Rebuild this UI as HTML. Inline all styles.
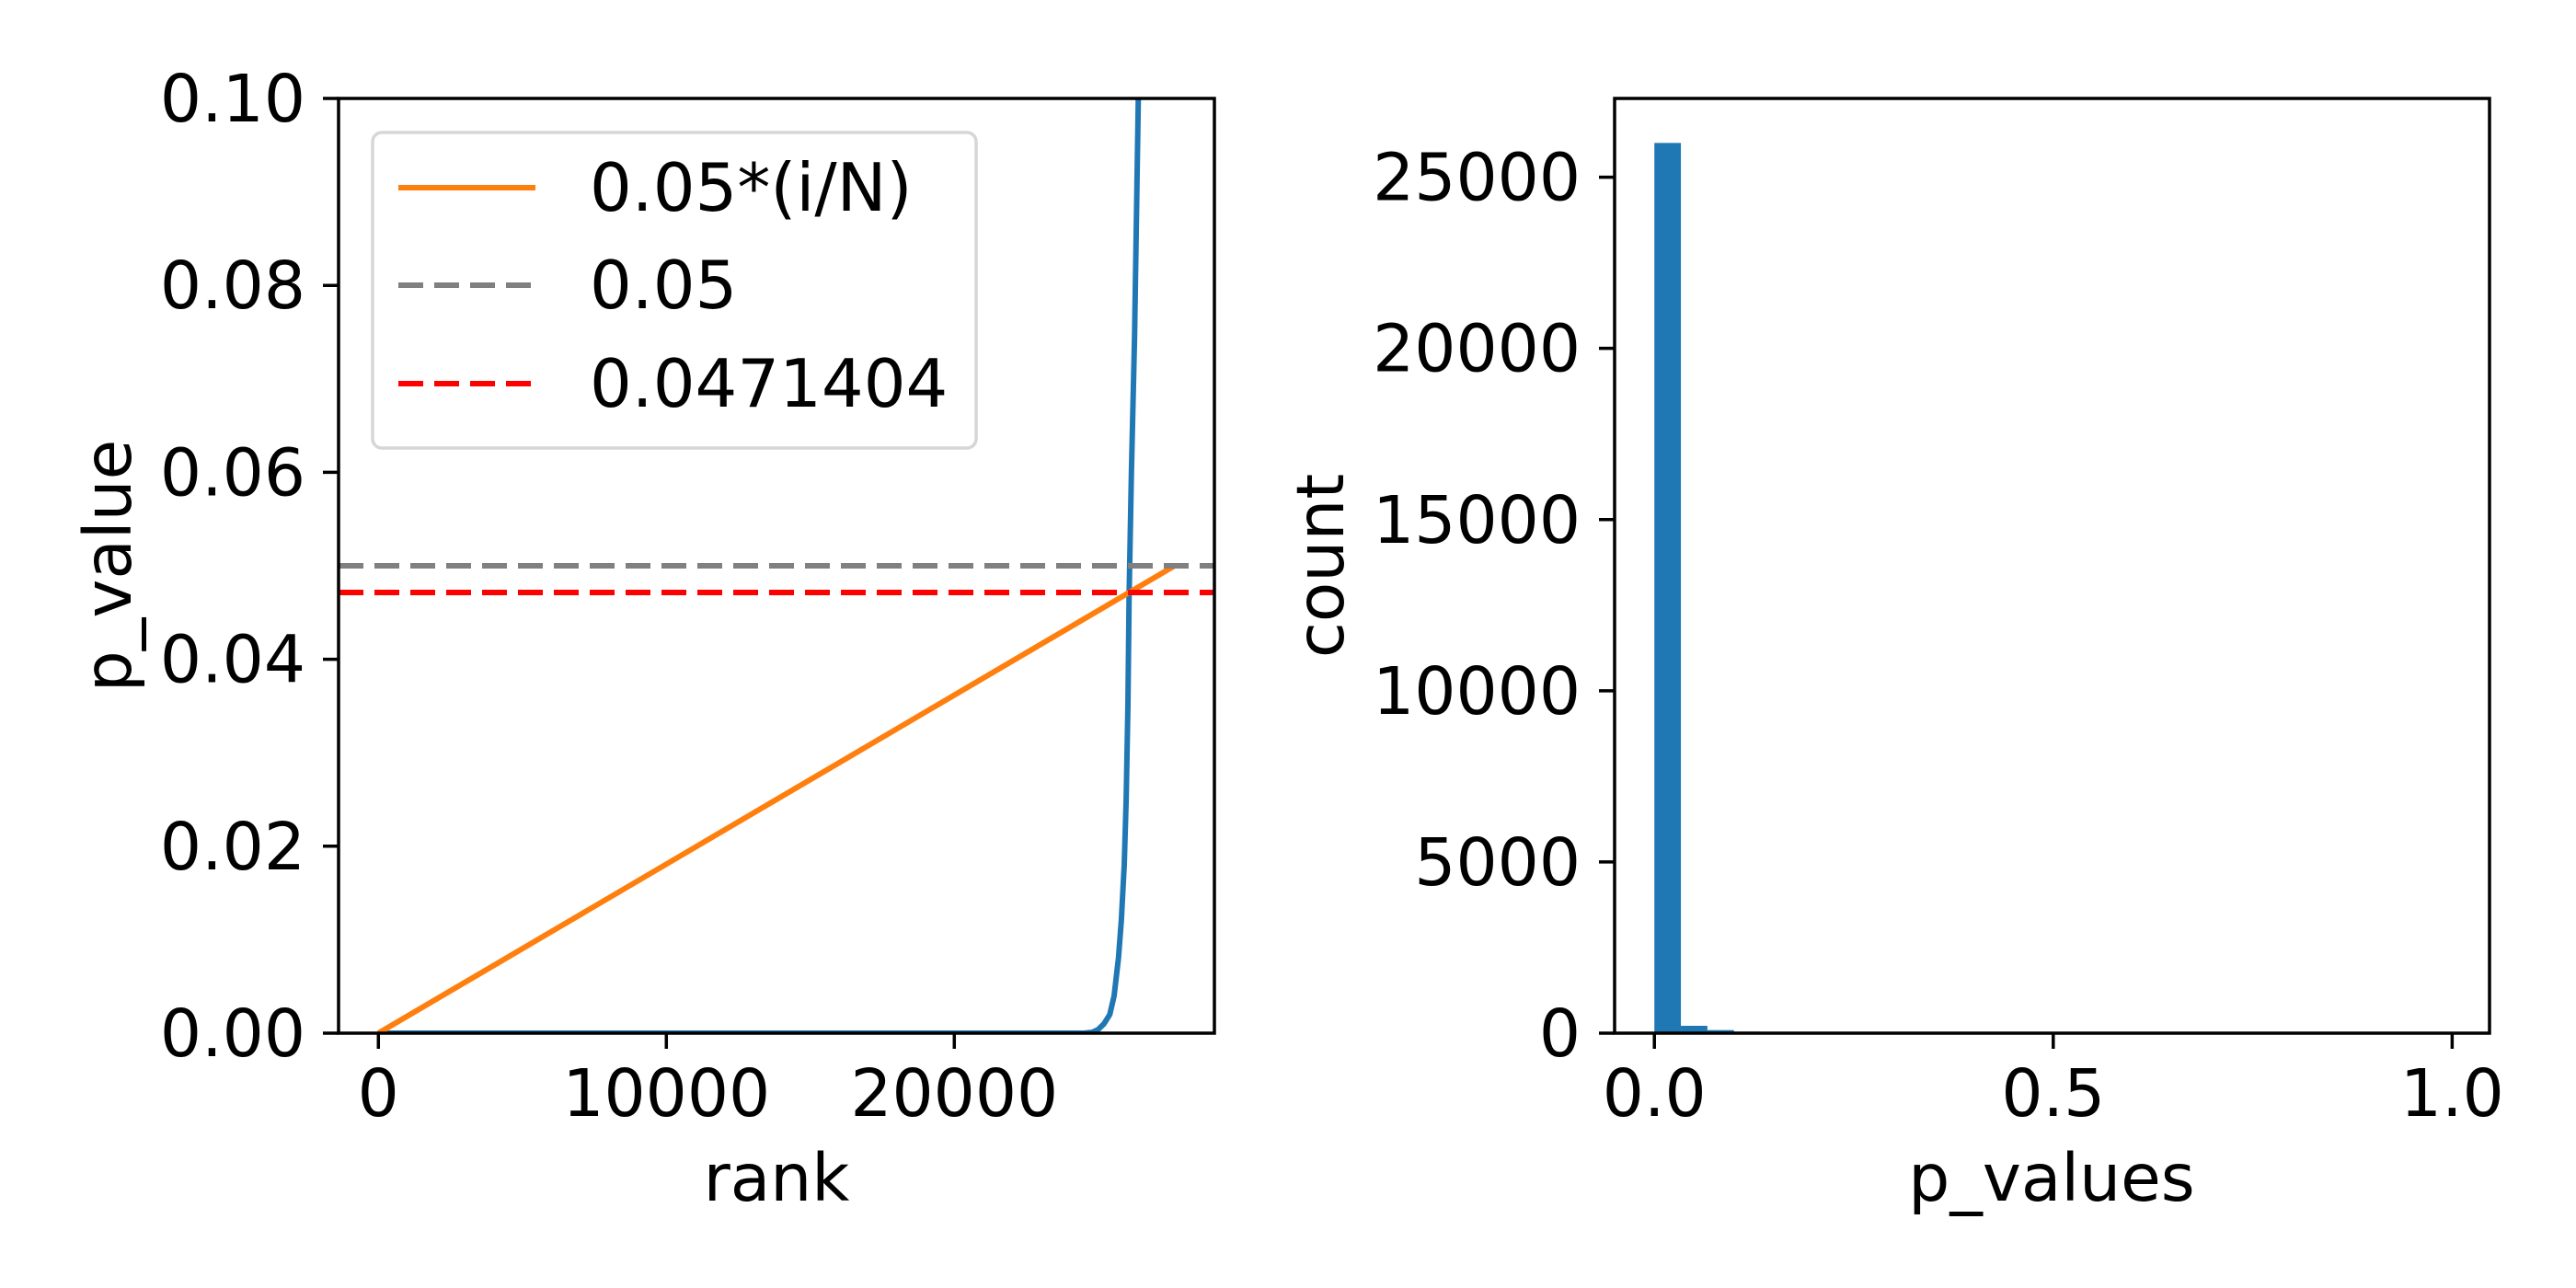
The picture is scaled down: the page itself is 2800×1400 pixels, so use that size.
<!DOCTYPE html>
<html><head><meta charset="utf-8"><style>
html,body{margin:0;padding:0;background:#fff;}
svg{display:block;}
text{font-family:"DejaVu Sans","Liberation Sans",sans-serif;fill:#000;}
</style></head><body>
<svg id="fig" width="2800" height="1400" viewBox="0 0 2800 1400" xmlns="http://www.w3.org/2000/svg"></svg>
<script>
// ---- Left chart data ----
const rankPoints = [0, 10000, 20000, 24500, 24800, 25000, 25200, 25400, 25550, 25700, 25800, 25900, 25970, 26030, 26070, 26150, 26260, 26390, 27650];
const pValuePoints = [0, 0, 0, 0, 0.0001, 0.0004, 0.001, 0.002, 0.004, 0.008, 0.012, 0.018, 0.025, 0.035, 0.0469, 0.06, 0.0744, 0.1, 0.997];
const totalN = 27650;
const bhAlpha = 0.05;
const alphaLine = 0.05;
const cutoffLine = 0.0471404;
const leftXTicks = [0, 10000, 20000];
const leftYTicks = [0, 0.02, 0.04, 0.06, 0.08, 0.10];
const leftYTickLabels = ["0.00","0.02","0.04","0.06","0.08","0.10"];
const legendLabels = ["0.05*(i/N)", "0.05", "0.0471404"];
// ---- Right chart data ----
const histCounts = [26000, 215, 90, 45, 15, 0,0,0,0,0,0,0,0,0,0,0,0,0,0,0,0,0,0,0,0,0,0,0,0,0];
const histMin = 0, histMax = 0.997;
const rightXTicks = [0, 0.5, 1.0];
const rightXTickLabels = ["0.0","0.5","1.0"];
const rightYTicks = [0, 5000, 10000, 15000, 20000, 25000];

const svg = document.getElementById('fig');
const NS = 'http://www.w3.org/2000/svg';
function mk(tag, attrs, parent){const e=document.createElementNS(NS,tag);for(const k in attrs)e.setAttribute(k,attrs[k]);(parent||svg).appendChild(e);return e;}

// Left axes geometry
const L = {x0:368, x1:1320, y0:107, y1:1123};
const lxMin = -0.05*totalN, lxMax = 1.05*totalN;
const lx = v => L.x0 + (v - lxMin)/(lxMax - lxMin)*(L.x1-L.x0);
const ly = v => L.y1 - v/0.1*(L.y1-L.y0);

const clip = mk('clipPath',{id:'lclip'});
mk('rect',{x:L.x0,y:L.y0,width:L.x1-L.x0,height:L.y1-L.y0},clip);

const lg = mk('g',{'clip-path':'url(#lclip)'});



let d = rankPoints.map((r,i)=>(i?'L':'M')+lx(r).toFixed(1)+','+ly(pValuePoints[i]).toFixed(1)).join(' ');
const blue = mk('path',{d:d,fill:'none',stroke:'#1f77b4','stroke-width':6,'stroke-linejoin':'round'},lg);



const orange = mk('line',{x1:lx(0),y1:ly(0),x2:lx(totalN),y2:ly(bhAlpha),stroke:'#ff7f0e','stroke-width':6},lg);



const gray = mk('line',{x1:L.x0,y1:ly(alphaLine),x2:L.x1,y2:ly(alphaLine),stroke:'#808080','stroke-width':6,'stroke-dasharray':'27 12'},lg);



const red = mk('line',{x1:L.x0,y1:ly(cutoffLine),x2:L.x1,y2:ly(cutoffLine),stroke:'#ff0000','stroke-width':6,'stroke-dasharray':'27 12'},lg);



const lframe = mk('rect',{x:L.x0,y:L.y0,width:L.x1-L.x0,height:L.y1-L.y0,fill:'none',stroke:'#000','stroke-width':3.5});



leftXTicks.forEach(t=>{
  mk('line',{x1:lx(t),y1:L.y1,x2:lx(t),y2:L.y1+17,stroke:'#000','stroke-width':3.5});
  const tx = mk('text',{x:lx(t),y:1213,'font-size':71,'text-anchor':'middle'});
  tx.textContent = String(t);
  
  
});
leftYTicks.forEach((t,i)=>{
  mk('line',{x1:L.x0-17,y1:ly(t),x2:L.x0,y2:ly(t),stroke:'#000','stroke-width':3.5});
  const tx = mk('text',{x:332,y:ly(t)+25,'font-size':71,'text-anchor':'end'});
  tx.textContent = leftYTickLabels[i];
  
  
});
const xl = mk('text',{x:844,y:1305,'font-size':71,'text-anchor':'middle'});
xl.textContent='rank';


const yl = mk('text',{x:0,y:0,'font-size':71,'text-anchor':'middle',transform:'translate(142,615) rotate(-90)'});
yl.textContent='p_value';



// Legend
const leg = mk('g',{});


mk('rect',{x:405,y:144,width:656,height:343,rx:10,fill:'#fff','fill-opacity':0.8,stroke:'#d6d6d6','stroke-width':3.5},leg);
const legStyles = [{c:'#ff7f0e',da:'none'},{c:'#808080',da:'27 12'},{c:'#ff0000',da:'27 12'}];
[204,310,417].forEach((yy,i)=>{
  const e = mk('g',{},leg);
  
  
  mk('line',{x1:433,y1:yy,x2:582,y2:yy,stroke:legStyles[i].c,'stroke-width':6,'stroke-dasharray':legStyles[i].da},e);
  const t = mk('text',{x:641,y:yy+25,'font-size':72},e);
  t.textContent = legendLabels[i];
});

// Right axes
const R = {x0:1755, x1:2706, y0:107, y1:1123};
const rxMin = histMin - 0.05*(histMax-histMin), rxMax = histMax + 0.05*(histMax-histMin);
const rx = v => R.x0 + (v - rxMin)/(rxMax-rxMin)*(R.x1-R.x0);
const ryMax = Math.max(...histCounts)*1.05;
const ry = v => R.y1 - v/ryMax*(R.y1-R.y0);
const bw = (histMax-histMin)/histCounts.length;
histCounts.forEach((c,i)=>{
  if(c<=0) return;
  const b = mk('rect',{x:rx(histMin+i*bw),y:ry(c),width:rx(histMin+(i+1)*bw)-rx(histMin+i*bw),height:R.y1-ry(c),fill:'#1f77b4'});
  
  
});
const rframe = mk('rect',{x:R.x0,y:R.y0,width:R.x1-R.x0,height:R.y1-R.y0,fill:'none',stroke:'#000','stroke-width':3.5});


rightXTicks.forEach((t,i)=>{
  mk('line',{x1:rx(t),y1:R.y1,x2:rx(t),y2:R.y1+17,stroke:'#000','stroke-width':3.5});
  const tx = mk('text',{x:rx(t),y:1213,'font-size':71,'text-anchor':'middle'});
  tx.textContent = rightXTickLabels[i];
  
  
});
rightYTicks.forEach(t=>{
  mk('line',{x1:R.x0-17,y1:ry(t),x2:R.x0,y2:ry(t),stroke:'#000','stroke-width':3.5});
  const tx = mk('text',{x:1718,y:ry(t)+25,'font-size':71,'text-anchor':'end'});
  tx.textContent = String(t);
  
  
});
const rxl = mk('text',{x:2230,y:1305,'font-size':71,'text-anchor':'middle'});
rxl.textContent='p_values';


const ryl = mk('text',{x:0,y:0,'font-size':71,'text-anchor':'middle',transform:'translate(1460,615) rotate(-90)'});
ryl.textContent='count';


</script>
</body></html>
